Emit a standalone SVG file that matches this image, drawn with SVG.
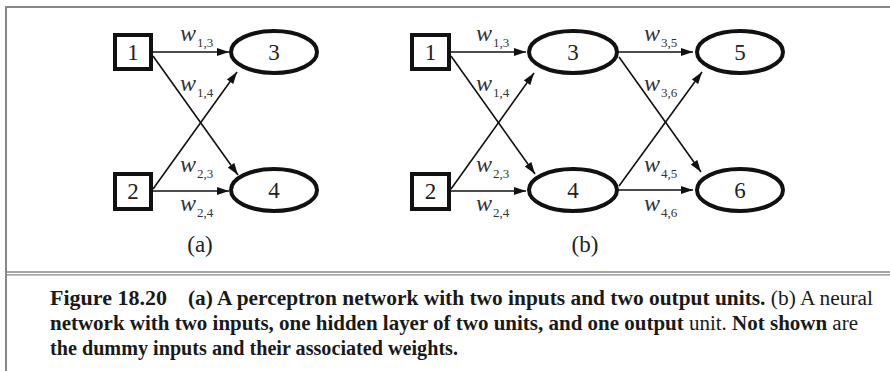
<svg xmlns="http://www.w3.org/2000/svg" width="890" height="371" viewBox="0 0 890 371">
<style>
.box{fill:#fff;stroke:#111;stroke-width:4}
.ell{fill:#fff;stroke:#111;stroke-width:4}
.lbl{font-family:"Liberation Serif","Times New Roman",serif;font-size:23px;fill:#222;text-anchor:middle}
.w{font-family:"Liberation Serif","Times New Roman",serif;font-size:24px;font-style:italic;fill:#333}
.sub{font-family:"Liberation Serif","Times New Roman",serif;font-size:13px;fill:#333}
.edge{stroke:#111;stroke-width:1.6;fill:none;marker-end:url(#ah)}
.cap{font-family:"Liberation Serif","Times New Roman",serif;font-size:20px;fill:#1a1a1a}
.frame{stroke:#888;fill:none}
</style>
<defs>
<marker id="ah" markerUnits="userSpaceOnUse" markerWidth="13" markerHeight="9" refX="12" refY="4" orient="auto">
<path d="M0,0 L12,4 L0,8 z" fill="#111"/>
</marker>
</defs>
<rect width="890" height="371" fill="#fff"/>
<g id="frame">
<line class="frame" x1="5" y1="7" x2="890" y2="7" stroke-width="2"/>
<line class="frame" x1="6" y1="6" x2="6" y2="371" stroke-width="2"/>
<line class="frame" x1="6" y1="272" x2="890" y2="272" stroke-width="1.4" stroke="#777"/>
<line class="frame" x1="6" y1="274.8" x2="890" y2="274.8" stroke-width="1.2" stroke="#9a9a9a"/>
</g>
<g id="connectors">
<line class="edge" x1="153" y1="52" x2="229" y2="52"/>
<line class="edge" x1="153" y1="56" x2="238" y2="175"/>
<line class="edge" x1="153" y1="189" x2="237" y2="72"/>
<line class="edge" x1="153" y1="191" x2="229" y2="191"/>
<line class="edge" x1="451" y1="52" x2="526" y2="52"/>
<line class="edge" x1="451" y1="56" x2="535" y2="174"/>
<line class="edge" x1="451" y1="189" x2="534" y2="73"/>
<line class="edge" x1="451" y1="191" x2="526" y2="191"/>
<line class="edge" x1="618" y1="52" x2="693" y2="52"/>
<line class="edge" x1="619" y1="57" x2="701" y2="172"/>
<line class="edge" x1="619" y1="186" x2="702" y2="72"/>
<line class="edge" x1="618" y1="190" x2="693" y2="190"/>
</g>
<g id="weights">
<text class="w" x="180" y="41">w</text><text class="sub" x="197" y="47">1,3</text>
<text class="w" x="180" y="91">w</text><text class="sub" x="197" y="97">1,4</text>
<text class="w" x="180" y="172">w</text><text class="sub" x="197" y="178">2,3</text>
<text class="w" x="180" y="211">w</text><text class="sub" x="197" y="217">2,4</text>
<text class="w" x="476" y="41">w</text><text class="sub" x="493" y="47">1,3</text>
<text class="w" x="476" y="91">w</text><text class="sub" x="493" y="97">1,4</text>
<text class="w" x="476" y="172">w</text><text class="sub" x="493" y="178">2,3</text>
<text class="w" x="476" y="211">w</text><text class="sub" x="493" y="217">2,4</text>
<text class="w" x="644" y="41">w</text><text class="sub" x="661" y="47">3,5</text>
<text class="w" x="644" y="91">w</text><text class="sub" x="661" y="97">3,6</text>
<text class="w" x="644" y="172">w</text><text class="sub" x="661" y="178">4,5</text>
<text class="w" x="644" y="211">w</text><text class="sub" x="661" y="217">4,6</text>
</g>
<g id="a-in1"><rect class="box" x="115" y="35" width="36" height="34"/><text class="lbl" x="133" y="60">1</text></g>
<g id="a-in2"><rect class="box" x="115" y="174" width="36" height="35"/><text class="lbl" x="133" y="199">2</text></g>
<g id="a-out3"><ellipse class="ell" cx="274" cy="52" rx="43" ry="21"/><text class="lbl" x="274" y="60">3</text></g>
<g id="a-out4"><ellipse class="ell" cx="274" cy="190" rx="43" ry="21"/><text class="lbl" x="274" y="198">4</text></g>
<g id="b-in1"><rect class="box" x="412" y="35" width="37" height="34"/><text class="lbl" x="430.5" y="60">1</text></g>
<g id="b-in2"><rect class="box" x="412" y="174" width="37" height="35"/><text class="lbl" x="430.5" y="199">2</text></g>
<g id="b-h3"><ellipse class="ell" cx="573" cy="52" rx="44" ry="21"/><text class="lbl" x="573" y="60">3</text></g>
<g id="b-h4"><ellipse class="ell" cx="573" cy="190" rx="44" ry="21"/><text class="lbl" x="573" y="198">4</text></g>
<g id="b-o5"><ellipse class="ell" cx="740" cy="52" rx="43" ry="21"/><text class="lbl" x="740" y="60">5</text></g>
<g id="b-o6"><ellipse class="ell" cx="740" cy="190" rx="43" ry="21"/><text class="lbl" x="740" y="198">6</text></g>
<g id="panel-labels">
<text class="lbl" x="200" y="252">(a)</text>
<text class="lbl" x="585" y="252">(b)</text>
</g>
<g id="caption">
<text class="cap" x="50" y="305" font-weight="bold" textLength="117" lengthAdjust="spacingAndGlyphs">Figure 18.20</text>
<text class="cap" x="188" y="305" textLength="685" lengthAdjust="spacingAndGlyphs"><tspan font-weight="bold">(a) A perceptron network with two inputs and two output units.</tspan> (b) A neural</text>
<text class="cap" x="50" y="330" textLength="808" lengthAdjust="spacingAndGlyphs"><tspan font-weight="bold">network with two inputs, one hidden layer of two units, and one output</tspan> unit. <tspan font-weight="bold">Not shown</tspan> are</text>
<text class="cap" x="50" y="355" font-weight="bold" textLength="408" lengthAdjust="spacingAndGlyphs">the dummy inputs and their associated weights.</text>
</g>
</svg>
